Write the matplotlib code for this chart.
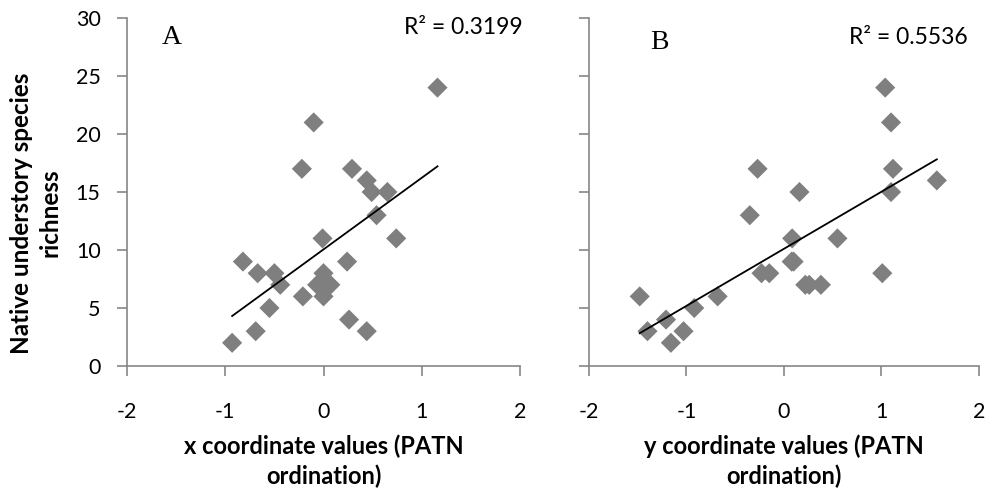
import numpy as np
import matplotlib.pyplot as plt

# panel A: x coordinate (PATN ordination) vs native understory richness
x_a = [-0.93, -0.69, -0.55, -0.82, -0.67, -0.50, -0.44, -0.21, -0.22, -0.10,
       -0.01, -0.065, 0.00, 0.00, 0.07, 0.24, 0.26, 0.44, 0.29, 0.44,
       0.49, 0.54, 0.65, 0.74, 1.16]
rich_a = [2, 3, 5, 9, 8, 8, 7, 6, 17, 21,
          11, 7, 6, 8, 7, 9, 4, 3, 17, 16,
          15, 13, 15, 11, 24]
r2_a = "R\u00b2 = 0.3199"

# panel B: y coordinate (PATN ordination) vs native understory richness
x_b = [-1.48, -1.40, -1.21, -1.16, -1.03, -0.92, -0.68, -0.35, -0.27, -0.23,
       -0.15, 0.085, 0.08, 0.10, 0.22, 0.26, 0.38, 0.16, 0.55, 1.01,
       1.04, 1.10, 1.12, 1.10, 1.57]
rich_b = [6, 3, 4, 2, 3, 5, 6, 13, 17, 8,
          8, 11, 9, 9, 7, 7, 7, 15, 11, 8,
          24, 21, 17, 15, 16]
r2_b = "R\u00b2 = 0.5536"

xticks = [-2, -1, 0, 1, 2]
yticks = [0, 5, 10, 15, 20, 25, 30]

plt.rcParams['font.family'] = ['Lato', 'DejaVu Sans']
plt.rcParams['axes.unicode_minus'] = False

fig = plt.figure(figsize=(9.89, 4.95), dpi=100)
ax1 = fig.add_axes([0.1284, 0.2606, 0.3974, 0.703])
ax2 = fig.add_axes([0.5956, 0.2606, 0.394, 0.703])

grey = '#868686'
for ax, xs, ys in [(ax1, x_a, rich_a), (ax2, x_b, rich_b)]:
    ax.scatter(xs, ys, marker='D', s=105, color='#7f7f7f', edgecolor='none', zorder=3)
    # linear trendline
    k, b = np.polyfit(xs, ys, 1)
    xx = np.array([min(xs), max(xs)])
    ax.plot(xx, k * xx + b, color='black', lw=1.3, zorder=4)

    ax.set_xlim(-2, 2)
    ax.set_ylim(0, 30)
    ax.set_xticks(xticks)
    ax.set_yticks(yticks)
    for s in ['top', 'right']:
        ax.spines[s].set_visible(False)
    for s in ['left', 'bottom']:
        ax.spines[s].set_color(grey)
        ax.spines[s].set_linewidth(1.2)
    ax.tick_params(colors=grey, labelcolor='black', labelsize=15.5, length=7, width=1.2,
                   direction='out')
    ax.tick_params(axis='x', pad=19)
    ax.tick_params(axis='y', pad=12)

ax2.set_yticklabels([])
ax1.set_ylabel('Native understory species\nrichness', fontsize=17.5, fontweight='bold',
               linespacing=1.3)
ax1.yaxis.set_label_coords(-0.232, 0.44)
ax1.yaxis.label.set_va('center')
ax1.set_xlabel('x coordinate values (PATN\nordination)', fontsize=17, fontweight='bold',
               linespacing=1.35)
ax2.set_xlabel('y coordinate values (PATN\nordination)', fontsize=17, fontweight='bold',
               linespacing=1.35)
for ax in (ax1, ax2):
    ax.xaxis.set_label_coords(0.5, -0.273)
    ax.xaxis.label.set_va('center')

fig.text(0.468, 0.945, r2_a, fontsize=16.5, ha='center', va='center')
fig.text(0.918, 0.925, r2_b, fontsize=16.5, ha='center', va='center')
fig.text(0.174, 0.924, 'A', fontsize=20, family='Liberation Serif', ha='center', va='center')
fig.text(0.667, 0.915, 'B', fontsize=20, family='Liberation Serif', ha='center', va='center')

fig.savefig('out.png', dpi=100)
